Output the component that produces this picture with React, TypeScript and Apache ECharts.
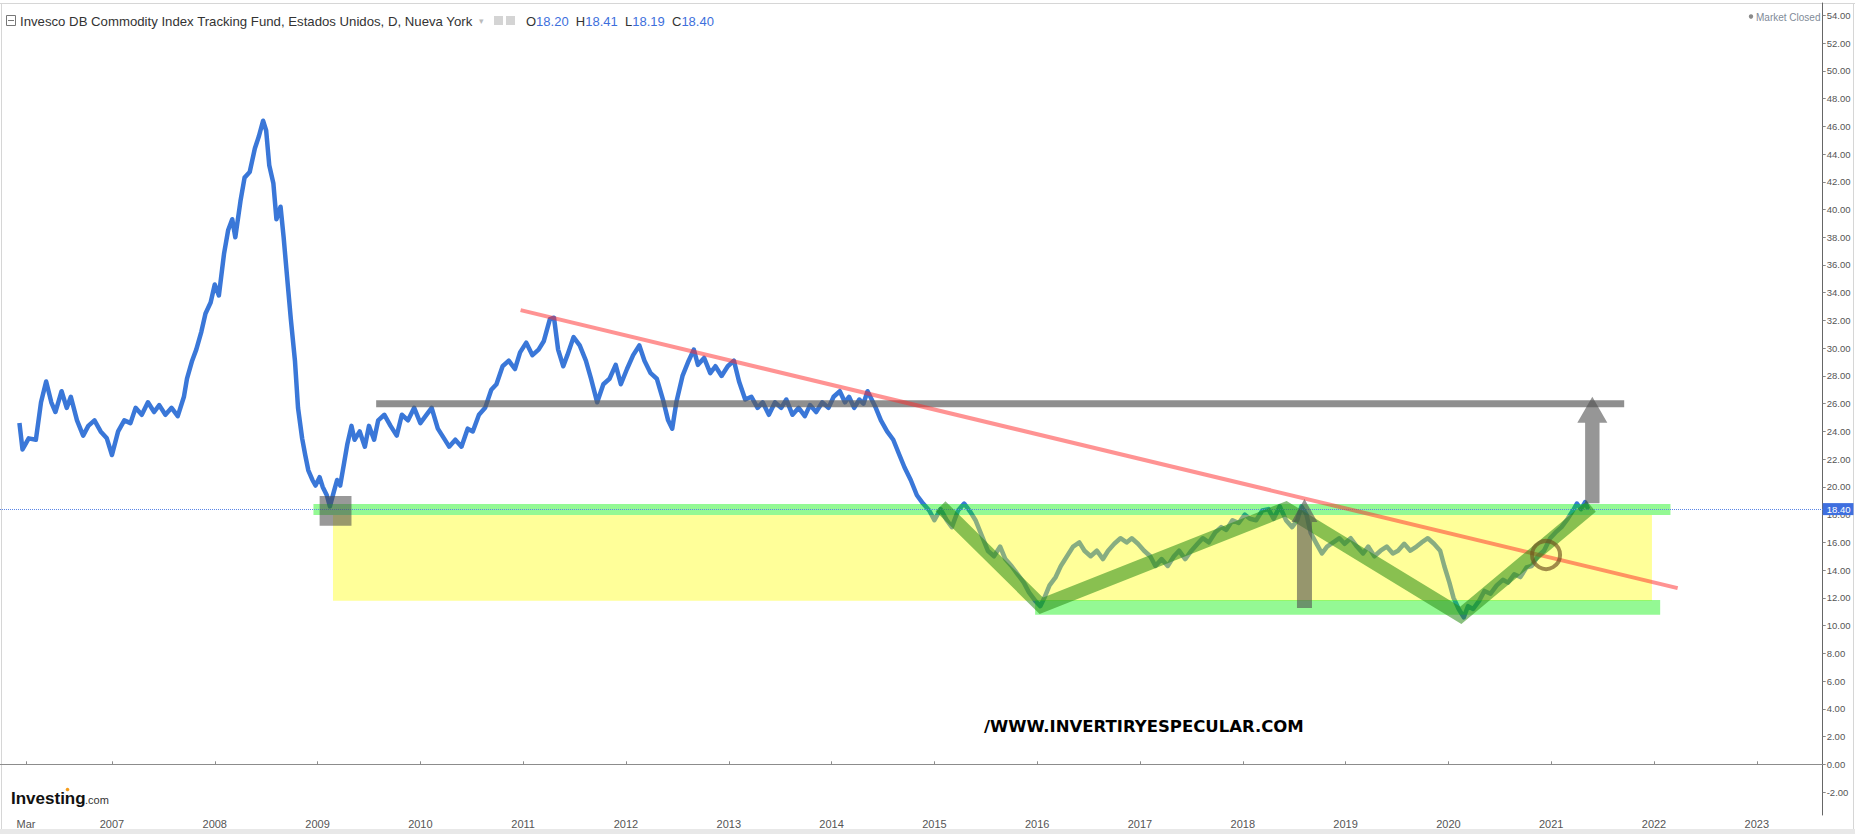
import React, { useEffect, useRef } from "react";
import * as echarts from "echarts";

// ---------- DATA ----------
const priceYears: number[] = [
  2006.10, 2006.13, 2006.19, 2006.26, 2006.31, 2006.36, 2006.41, 2006.45, 2006.51, 2006.56,
  2006.60, 2006.66, 2006.72, 2006.77, 2006.83, 2006.89, 2006.95, 2007.00, 2007.06, 2007.12,
  2007.18, 2007.23, 2007.29, 2007.35, 2007.41, 2007.46, 2007.52, 2007.58, 2007.64, 2007.70,
  2007.73, 2007.78, 2007.82, 2007.87, 2007.91, 2007.96, 2008.00, 2008.04, 2008.09, 2008.13,
  2008.17, 2008.20, 2008.25, 2008.29, 2008.34, 2008.39, 2008.43, 2008.47, 2008.50, 2008.53,
  2008.57, 2008.60, 2008.64, 2008.67, 2008.71, 2008.74, 2008.78, 2008.81, 2008.85, 2008.88,
  2008.91, 2008.95, 2008.98, 2009.02, 2009.05, 2009.09, 2009.12, 2009.16, 2009.19, 2009.22,
  2009.26, 2009.29, 2009.33, 2009.36, 2009.41, 2009.46, 2009.50, 2009.55, 2009.59, 2009.65,
  2009.71, 2009.77, 2009.82, 2009.88, 2009.94, 2010.00, 2010.05, 2010.11, 2010.17, 2010.23,
  2010.28, 2010.34, 2010.40, 2010.46, 2010.51, 2010.57, 2010.63, 2010.69, 2010.74, 2010.80,
  2010.86, 2010.92, 2010.97, 2011.03, 2011.09, 2011.15, 2011.20, 2011.26, 2011.30, 2011.34,
  2011.39, 2011.43, 2011.49, 2011.55, 2011.61, 2011.66, 2011.72, 2011.78, 2011.84, 2011.90,
  2011.95, 2012.01, 2012.07, 2012.13, 2012.18, 2012.24, 2012.30, 2012.36, 2012.41, 2012.45,
  2012.49, 2012.55, 2012.61, 2012.66, 2012.70, 2012.76, 2012.82, 2012.87, 2012.93, 2012.99,
  2013.05, 2013.10, 2013.16, 2013.22, 2013.28, 2013.33, 2013.39, 2013.45, 2013.51, 2013.56,
  2013.62, 2013.68, 2013.74, 2013.79, 2013.85, 2013.91, 2013.97, 2014.02, 2014.08, 2014.13,
  2014.17, 2014.22, 2014.27, 2014.31, 2014.35, 2014.43, 2014.48, 2014.54, 2014.60, 2014.66,
  2014.71, 2014.77, 2014.83, 2014.89, 2014.95, 2015.00, 2015.06, 2015.12, 2015.17, 2015.23,
  2015.29, 2015.35, 2015.40, 2015.46, 2015.52, 2015.58, 2015.64, 2015.69, 2015.75, 2015.81,
  2015.87, 2015.92, 2015.98, 2016.03, 2016.07, 2016.12, 2016.18, 2016.23, 2016.29, 2016.35,
  2016.41, 2016.46, 2016.52, 2016.58, 2016.64, 2016.69, 2016.75, 2016.81, 2016.87, 2016.92,
  2016.98, 2017.04, 2017.10, 2017.15, 2017.21, 2017.27, 2017.33, 2017.38, 2017.44, 2017.50,
  2017.56, 2017.61, 2017.67, 2017.73, 2017.79, 2017.84, 2017.90, 2017.96, 2018.02, 2018.07,
  2018.13, 2018.19, 2018.25, 2018.30, 2018.36, 2018.42, 2018.48, 2018.53, 2018.57, 2018.62,
  2018.66, 2018.71, 2018.77, 2018.82, 2018.88, 2018.94, 2018.99, 2019.05, 2019.11, 2019.17,
  2019.22, 2019.28, 2019.34, 2019.40, 2019.46, 2019.51, 2019.57, 2019.63, 2019.69, 2019.74,
  2019.80, 2019.86, 2019.92, 2019.96, 2020.01, 2020.05, 2020.10, 2020.15, 2020.19, 2020.24,
  2020.30, 2020.35, 2020.41, 2020.47, 2020.53, 2020.58, 2020.64, 2020.70, 2020.76, 2020.81,
  2020.87, 2020.93, 2020.99, 2021.04, 2021.10, 2021.16, 2021.22, 2021.25, 2021.29, 2021.33,
  2021.36,
];

const priceValues: number[] = [
  24.6, 22.7, 23.5, 23.4, 26.1, 27.6, 26.1, 25.4, 26.9, 25.7,
  26.5, 24.8, 23.7, 24.4, 24.8, 24.0, 23.5, 22.3, 24.0, 24.8,
  24.6, 25.7, 25.2, 26.1, 25.4, 25.9, 25.2, 25.7, 25.1, 26.5,
  27.8, 29.1, 29.9, 31.2, 32.5, 33.3, 34.6, 33.8, 36.8, 38.5,
  39.3, 38.0, 40.6, 42.3, 42.7, 44.4, 45.3, 46.4, 45.7, 43.2,
  41.9, 39.3, 40.2, 38.0, 34.6, 32.1, 29.1, 25.7, 23.5, 22.3,
  21.2, 20.5, 20.1, 20.7, 20.0, 19.4, 18.6, 19.7, 20.5, 20.1,
  21.8, 23.1, 24.4, 23.4, 24.0, 22.9, 24.4, 23.4, 24.8, 25.2,
  24.4, 23.7, 25.2, 24.8, 25.7, 24.6, 25.1, 25.7, 24.2, 23.5,
  22.9, 23.4, 22.9, 24.2, 24.0, 25.2, 25.7, 27.0, 27.4, 28.7,
  29.1, 28.5, 29.7, 30.4, 29.5, 29.9, 30.5, 32.1, 32.2, 29.9,
  28.7, 29.5, 30.8, 30.2, 29.1, 27.8, 26.1, 27.4, 27.8, 28.8,
  27.4, 28.5, 29.5, 30.2, 29.1, 28.2, 27.8, 26.3, 24.8, 24.2,
  26.1, 28.0, 29.1, 29.9, 28.8, 29.3, 28.2, 28.7, 28.0, 28.7,
  29.1, 27.6, 26.3, 26.5, 25.7, 26.1, 25.2, 26.1, 25.7, 26.3,
  25.2, 25.7, 25.1, 25.9, 25.4, 26.1, 25.7, 26.5, 26.9, 26.1,
  26.5, 25.7, 26.3, 26.0, 26.9, 25.7, 24.8, 24.0, 23.4, 22.3,
  21.4, 20.5, 19.4, 18.8, 18.3, 17.6, 18.4, 17.6, 17.1, 18.3,
  18.8, 18.2, 17.6, 16.5, 15.4, 15.0, 15.7, 14.8, 14.3, 13.7,
  13.1, 12.4, 11.8, 11.4, 12.0, 12.9, 13.5, 14.3, 15.0, 15.7,
  16.0, 15.4, 15.0, 15.4, 14.8, 15.4, 15.9, 16.3, 16.0, 16.3,
  15.9, 15.4, 15.0, 14.3, 14.8, 14.3, 15.0, 15.4, 14.8, 15.4,
  15.9, 16.3, 16.0, 16.7, 17.1, 16.9, 17.6, 17.4, 18.0, 17.7,
  17.6, 18.3, 18.4, 17.7, 18.6, 17.6, 17.1, 17.6, 18.6, 18.0,
  16.7, 16.0, 15.2, 15.7, 16.0, 16.3, 15.9, 16.3, 15.7, 15.2,
  15.7, 15.0, 15.4, 15.7, 15.2, 15.4, 15.9, 15.4, 15.7, 16.0,
  16.3, 15.9, 15.4, 14.3, 13.1, 12.0, 11.2, 10.6, 11.4, 11.2,
  11.8, 12.5, 12.3, 12.9, 13.3, 13.1, 13.7, 13.5, 14.2, 14.3,
  15.0, 15.4, 16.3, 16.7, 17.1, 17.7, 18.4, 18.8, 18.4, 18.9,
  18.4,
];

const yTickValues: number[] = [
  -2, 0, 2, 4, 6, 8, 10, 12, 14, 16, 18, 20, 22, 24, 26, 28, 30,
  32, 34, 36, 38, 40, 42, 44, 46, 48, 50, 52, 54,
];
const xTickYears: number[] = [
  2006.164, 2007, 2008, 2009, 2010, 2011, 2012, 2013, 2014, 2015,
  2016, 2017, 2018, 2019, 2020, 2021, 2022, 2023,
];
const xTickLabels: string[] = [
  "Mar", "2007", "2008", "2009", "2010", "2011", "2012", "2013", "2014", "2015",
  "2016", "2017", "2018", "2019", "2020", "2021", "2022", "2023",
];

const lastPrice = 18.4;
const ohlcLetters: string[] = ["O", "H", "L", "C"];
const ohlcValues: string[] = ["18.20", "18.41", "18.19", "18.40"];

// annotations, in data units: [yearFrom, yearTo, valueFrom, valueTo]
const yellowZone: number[] = [2009.15, 2021.98, 11.8, 17.97];
const upperBand: number[] = [2008.96, 2022.16, 17.97, 18.77];
const lowerBand: number[] = [2015.98, 2022.06, 10.78, 11.84];
const lowBox2009: number[] = [2009.02, 2009.33, 17.2, 19.34];
const resistanceLine: number[][] = [[2009.57, 26.0], [2021.71, 26.0]];
const trendLine: number[][] = [[2010.975, 32.75], [2022.23, 12.7]];
const zigzagPoints: number[][] = [
  [2015.06, 18.6], [2016.04, 11.43], [2018.42, 18.42], [2020.12, 10.74], [2021.39, 18.6],
];
// arrows: [year, valueBottom, valueHeadBase, valueTip]
const arrowMiddle: number[] = [2018.6, 11.27, 17.47, 19.13];
const arrowRight: number[] = [2021.4, 18.82, 24.63, 26.5];
const circleMark: number[] = [2020.95, 15.09];

// ---------- chart ----------
const X_MIN = 2005.911;
const X_MAX = 2023.641;
const Y_MIN = -3.655;
const Y_MAX = 54.89;

function rectSeries(rect: number[], color: string, z: number) {
  return {
    type: "custom",
    z,
    silent: true,
    data: [rect],
    encode: { x: [0, 1], y: [2, 3] },
    renderItem: (_p: any, api: any) => {
      const a = api.coord([api.value(0), api.value(3)]);
      const b = api.coord([api.value(1), api.value(2)]);
      return {
        type: "rect",
        shape: { x: a[0], y: a[1], width: b[0] - a[0], height: b[1] - a[1] },
        style: { fill: color },
      };
    },
  };
}

function arrowSeries(arrow: number[], shaftHalf: number, headHalf: number, color: string, z: number) {
  return {
    type: "custom",
    z,
    silent: true,
    data: [arrow],
    encode: { x: [0], y: [1, 2, 3] },
    renderItem: (_p: any, api: any) => {
      const b = api.coord([api.value(0), api.value(1)]);
      const h = api.coord([api.value(0), api.value(2)]);
      const t = api.coord([api.value(0), api.value(3)]);
      const x = b[0];
      return {
        type: "polygon",
        shape: {
          points: [
            [x - shaftHalf, b[1]],
            [x - shaftHalf, h[1]],
            [x - headHalf, h[1]],
            [x, t[1]],
            [x + headHalf, h[1]],
            [x + shaftHalf, h[1]],
            [x + shaftHalf, b[1]],
          ],
        },
        style: { fill: color },
      };
    },
  };
}

function lineSeries(points: number[][], color: string, width: number, z: number) {
  return {
    type: "line",
    z,
    silent: true,
    data: points,
    showSymbol: false,
    symbol: "none",
    lineStyle: { color, width, cap: "butt", join: "miter" },
  };
}

export default function App() {
  const ref = useRef<HTMLDivElement>(null);

  useEffect(() => {
    if (!ref.current) return;
    const chart = echarts.init(ref.current, null, { renderer: "svg" });
    const priceData = priceYears.map((t, i) => [t, priceValues[i]]);

    const labelFont = "'Liberation Sans', Arial, sans-serif";

    const option: any = {
      animation: false,
      backgroundColor: "#ffffff",
      grid: { left: 0, top: 3, right: 32.3, bottom: 19, containLabel: false, outerBoundsMode: "none" },
      xAxis: {
        type: "value",
        min: X_MIN,
        max: X_MAX,
        splitLine: { show: false },
        axisLine: { show: true, lineStyle: { color: "#8c8c8c", width: 1 } },
        axisTick: { show: true, inside: true, length: 3, customValues: xTickYears, lineStyle: { color: "#8c8c8c" } },
        axisLabel: {
          show: true,
          customValues: xTickYears,
          margin: 3,
          fontSize: 11,
          color: "#555",
          fontFamily: "'Liberation Sans Narrow', 'Liberation Sans', Arial, sans-serif",
          formatter: (v: number) => {
            const i = xTickYears.findIndex((y) => Math.abs(y - v) < 1e-6);
            return i >= 0 ? xTickLabels[i] : "";
          },
        },
      },
      yAxis: [
        {
          type: "value",
          position: "right",
          min: Y_MIN,
          max: Y_MAX,
          splitLine: { show: false },
          axisLine: { show: true, lineStyle: { color: "#666", width: 1 } },
          axisTick: { show: true, length: 3, customValues: yTickValues, lineStyle: { color: "#888" } },
          axisLabel: {
            show: true,
            customValues: yTickValues,
            margin: 4,
            fontSize: 9.5,
            color: "#555",
            fontFamily: labelFont,
            formatter: (v: number) => v.toFixed(2),
          },
        },
        {
          type: "value",
          position: "right",
          min: Y_MIN,
          max: Y_MAX,
          z: 20,
          splitLine: { show: false },
          axisLine: { show: false },
          axisTick: { show: false },
          axisLabel: {
            show: true,
            customValues: [lastPrice],
            margin: 0,
            fontSize: 9.5,
            color: "#ffffff",
            backgroundColor: "#3f6fdf",
            padding: [1, 3, 1, 4],
            fontFamily: labelFont,
            formatter: (v: number) => v.toFixed(2),
          },
        },
      ],
      series: [
        {
          type: "line",
          z: 2,
          data: priceData,
          showSymbol: false,
          symbol: "none",
          silent: true,
          lineStyle: { color: "#3a77d8", width: 4.5, join: "round" },
          markLine: {
            silent: true,
            symbol: ["none", "none"],
            label: { show: false },
            lineStyle: { type: "dotted", color: "#5a86e6", width: 1 },
            data: [{ yAxis: lastPrice }],
          },
        },
        rectSeries(yellowZone, "rgba(255,255,0,0.4)", 3),
        rectSeries(upperBand, "rgba(0,240,0,0.42)", 4),
        rectSeries(lowerBand, "rgba(0,240,0,0.42)", 4),
        rectSeries(lowBox2009, "rgba(70,70,70,0.55)", 5),
        lineSeries(resistanceLine, "rgba(90,90,90,0.68)", 7, 6),
        lineSeries(trendLine, "rgba(255,40,40,0.5)", 4, 6),
        lineSeries(zigzagPoints, "rgba(40,140,20,0.55)", 14, 7),
        arrowSeries(arrowMiddle, 7.5, 13, "rgba(80,80,80,0.6)", 8),
        arrowSeries(arrowRight, 7.2, 15, "rgba(80,80,80,0.6)", 8),
        {
          type: "custom",
          z: 9,
          silent: true,
          data: [circleMark],
          encode: { x: [0], y: [1] },
          renderItem: (_p: any, api: any) => {
            const c = api.coord([api.value(0), api.value(1)]);
            return {
              type: "circle",
              shape: { cx: c[0], cy: c[1], r: 14 },
              style: { fill: "none", stroke: "rgba(110,80,30,0.65)", lineWidth: 4 },
            };
          },
        },
      ],
      graphic: [
        // frame lines
        { type: "line", silent: true, shape: { x1: 0, y1: 3.5, x2: 1855, y2: 3.5 }, style: { stroke: "#d6d6d6", lineWidth: 1 } },
        { type: "line", silent: true, shape: { x1: 1.5, y1: 3, x2: 1.5, y2: 829 }, style: { stroke: "#d6d6d6", lineWidth: 1 } },
        { type: "line", silent: true, shape: { x1: 1853.5, y1: 3, x2: 1853.5, y2: 829 }, style: { stroke: "#d6d6d6", lineWidth: 1 } },
        { type: "rect", silent: true, shape: { x: 0, y: 829, width: 1855, height: 5 }, style: { fill: "#e8e8e8" } },
        // header icon
        { type: "rect", silent: true, shape: { x: 6.5, y: 15.5, width: 9, height: 10 }, style: { fill: "none", stroke: "#777", lineWidth: 1 } },
        { type: "line", silent: true, shape: { x1: 8, y1: 20.5, x2: 14, y2: 20.5 }, style: { stroke: "#777", lineWidth: 1 } },
        {
          type: "text",
          silent: true,
          x: 20,
          y: 21,
          style: {
            text: "Invesco DB Commodity Index Tracking Fund, Estados Unidos, D, Nueva York",
            fill: "#333",
            font: "13.2px 'Liberation Sans', Arial, sans-serif",
            verticalAlign: "middle",
          },
        },
        { type: "text", silent: true, x: 479, y: 21, style: { text: "▾", fill: "#bbb", font: "9px 'DejaVu Sans', sans-serif", verticalAlign: "middle" } },
        { type: "rect", silent: true, shape: { x: 494, y: 16, width: 9, height: 9 }, style: { fill: "#d4d4d4" } },
        { type: "rect", silent: true, shape: { x: 506, y: 16, width: 9, height: 9 }, style: { fill: "#d4d4d4" } },
        {
          type: "text",
          silent: true,
          x: 526,
          y: 21,
          style: {
            text: ohlcLetters.map((l, i) => `{l|${l}}{n|${ohlcValues[i]}}`).join("{s|  }"),
            verticalAlign: "middle",
            font: "13px 'Liberation Sans', Arial, sans-serif",
            rich: {
              l: { fill: "#333", font: "13px 'Liberation Sans', Arial, sans-serif" },
              n: { fill: "#3d6fdc", font: "13px 'Liberation Sans', Arial, sans-serif" },
              s: { fill: "#333", font: "13px 'Liberation Sans', Arial, sans-serif" },
            },
          },
        },
        // market closed
        { type: "circle", silent: true, shape: { cx: 1751, cy: 16.5, r: 2.2 }, style: { fill: "#8a8a8a" } },
        {
          type: "text",
          silent: true,
          x: 1756,
          y: 17,
          style: { text: "Market Closed", fill: "#7f8b98", font: "10px 'Liberation Sans', Arial, sans-serif", verticalAlign: "middle" },
        },
        // logo
        {
          type: "text",
          silent: true,
          x: 11,
          y: 807,
          style: { text: "Investing", fill: "#111", font: "bold 17px 'Liberation Sans', Arial, sans-serif", verticalAlign: "bottom" },
        },
        { type: "circle", silent: true, shape: { cx: 67.5, cy: 789.5, r: 1.8 }, style: { fill: "#f59c1a" } },
        {
          type: "text",
          silent: true,
          x: 85,
          y: 805,
          style: { text: ".com", fill: "#333", font: "11px 'Liberation Sans', Arial, sans-serif", verticalAlign: "bottom" },
        },
        // watermark
        {
          type: "text",
          silent: true,
          x: 984,
          y: 726,
          style: {
            text: "/WWW.INVERTIRYESPECULAR.COM",
            fill: "#000",
            font: "bold 16.5px 'DejaVu Sans', Arial, sans-serif",
            verticalAlign: "middle",
          },
        },
      ],
    };

    chart.setOption(option);
    return () => chart.dispose();
  }, []);

  return (
    <div
      ref={ref}
      style={{ position: "fixed", left: 0, top: 0, width: 1855, height: 834, background: "#fff" }}
    />
  );
}
